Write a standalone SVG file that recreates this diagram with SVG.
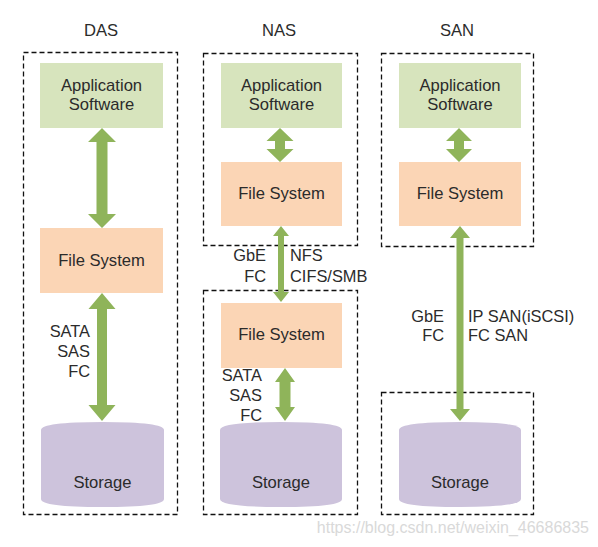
<svg xmlns="http://www.w3.org/2000/svg" width="598" height="547" viewBox="0 0 598 547">
<style>
.t{font-family:"Liberation Sans",Arial,sans-serif;font-size:16.6px;fill:#2b2b2b}
.l{font-family:"Liberation Sans",Arial,sans-serif;font-size:16.4px;fill:#2b2b2b}
.c{text-anchor:middle}
.e{text-anchor:end}
.frame{fill:none;stroke:#111;stroke-width:1.3;stroke-dasharray:5 3}
.app{fill:#d7e4bd}
.fs{fill:#fbd5b5}
.st{fill:#cdc3dc}
.ar{fill:#8fb45a}
.wm{font-family:"Liberation Sans",Arial,sans-serif;font-size:16px;fill:#d9d9d9;text-anchor:end}
</style>
<rect width="598" height="547" fill="#fff"/>
<g id="titles">
<text class="t c" x="101" y="36">DAS</text>
<text class="t c" x="279" y="36">NAS</text>
<text class="t c" x="457" y="36">SAN</text>
</g>
<g id="frames">
<rect class="frame" x="23.5" y="52.5" width="154" height="462"/>
<rect class="frame" x="203.5" y="53.5" width="154" height="192"/>
<rect class="frame" x="203.5" y="290.5" width="154" height="224"/>
<rect class="frame" x="381.5" y="53.5" width="152" height="193"/>
<rect class="frame" x="381.5" y="392.5" width="152" height="122"/>
</g>
<g id="connectors">
<polygon class="ar" points="102,128 116,142 107.5,142 107.5,214 116,214 102,228 88,214 96.5,214 96.5,142 88,142"/>
<polygon class="ar" points="102,293 115.5,309 107,309 107,405 115.5,405 102,421 88.5,405 97,405 97,309 88.5,309"/>
<polygon class="ar" points="280,128 293.5,141 285,141 285,149 293.5,149 280,162 266.5,149 275,149 275,141 266.5,141"/>
<polygon class="ar" points="281,226 289,236 284,236 284,292 289,292 281,302 273,292 278,292 278,236 273,236"/>
<polygon class="ar" points="285,368 295,382 290.5,382 290.5,407 295,407 285,421 275,407 279.5,407 279.5,382 275,382"/>
<polygon class="ar" points="459,128 472,141 464,141 464,149 472,149 459,162 446,149 454,149 454,141 446,141"/>
<polygon class="ar" points="460,226 470,238 463.5,238 463.5,409 470,409 460,421 450,409 456.5,409 456.5,238 450,238"/>
</g>
<g id="das-app"><rect class="app" x="40" y="63" width="123" height="65"/><text class="t c" x="101.5" y="91">Application</text><text class="t c" x="101.5" y="110">Software</text></g>
<g id="das-fs"><rect class="fs" x="40" y="228" width="123" height="65"/><text class="t c" x="101.5" y="266">File System</text></g>
<g id="das-storage"><path class="st" d="M41,430 Q41,422 102.5,422 Q164,422 164,430 L164,499 Q164,507 102.5,507 Q41,507 41,499 Z"/><text class="t c" x="102.5" y="488">Storage</text></g>
<g id="nas-app"><rect class="app" x="221" y="63" width="121" height="65"/><text class="t c" x="281.5" y="91">Application</text><text class="t c" x="281.5" y="110">Software</text></g>
<g id="nas-fs1"><rect class="fs" x="221" y="162" width="121" height="64"/><text class="t c" x="281.5" y="199">File System</text></g>
<g id="nas-fs2"><rect class="fs" x="221" y="303" width="121" height="65"/><text class="t c" x="281.5" y="340">File System</text></g>
<g id="nas-storage"><path class="st" d="M220,430 Q220,422 281,422 Q342,422 342,430 L342,499 Q342,507 281,507 Q220,507 220,499 Z"/><text class="t c" x="281" y="488">Storage</text></g>
<g id="san-app"><rect class="app" x="399" y="63" width="122" height="65"/><text class="t c" x="460" y="91">Application</text><text class="t c" x="460" y="110">Software</text></g>
<g id="san-fs"><rect class="fs" x="399" y="162" width="122" height="64"/><text class="t c" x="460" y="199">File System</text></g>
<g id="san-storage"><path class="st" d="M399,430 Q399,422 460,422 Q521,422 521,430 L521,499 Q521,507 460,507 Q399,507 399,499 Z"/><text class="t c" x="460" y="488">Storage</text></g>
<g id="labels">
<text class="l e" x="90" y="337">SATA</text>
<text class="l e" x="90" y="357">SAS</text>
<text class="l e" x="90" y="377">FC</text>
<text class="l e" x="266" y="261">GbE</text>
<text class="l e" x="266" y="282">FC</text>
<text class="l" x="290" y="261">NFS</text>
<text class="l" x="290" y="282">CIFS/SMB</text>
<text class="l e" x="262" y="381">SATA</text>
<text class="l e" x="262" y="401">SAS</text>
<text class="l e" x="262" y="421">FC</text>
<text class="l e" x="444" y="322">GbE</text>
<text class="l e" x="444" y="341">FC</text>
<text class="l" x="468" y="322">IP SAN(iSCSI)</text>
<text class="l" x="468" y="341">FC SAN</text>
</g>
<text class="wm" x="589" y="533">https://blog.csdn.net/weixin_46686835</text>
</svg>
